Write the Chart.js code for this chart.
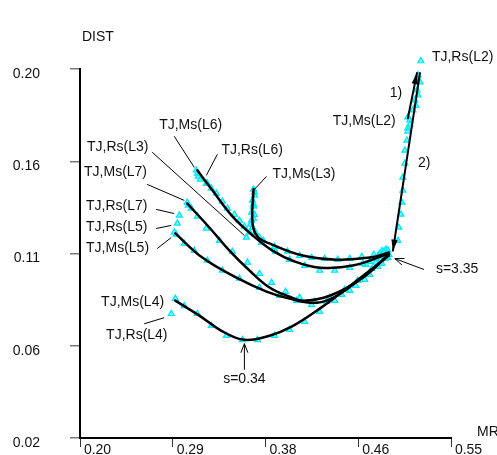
<!DOCTYPE html>
<html>
<head>
<meta charset="utf-8">
<script src="https://cdn.jsdelivr.net/npm/chart.js@4.4.1/dist/chart.umd.min.js"></script>
<style>
  html, body { margin: 0; padding: 0; background: #fff; }
  canvas { display: block; }
</style>
</head>
<body>
<canvas id="chart" width="497" height="455"></canvas>
<script>
// ---- axis ticks -------------------------------------------------------
const xTicks = [0.20, 0.2875, 0.375, 0.4625, 0.55];
const xTickLabels = ['0.20', '0.29', '0.38', '0.46', '0.55'];
const yTicks = [0.02, 0.065, 0.11, 0.155, 0.20];
const yTickLabels = ['0.02', '0.06', '0.11', '0.16', '0.20'];

// ---- fitted paths, [MR, DIST] -----------------------------------------
const pathL2up = [[0.5093, 0.1760], [0.5179, 0.1980]];
const pathL2down = [[0.5207, 0.1980], [0.4952, 0.1114]];
const pathL3 = [[0.3637, 0.1413], [0.3627, 0.1251], [0.3674, 0.1183], [0.3788, 0.1149],
  [0.4100, 0.1090], [0.4422, 0.1070], [0.4734, 0.1080], [0.4914, 0.1105]];
const pathL6 = [[0.3107, 0.1506], [0.3249, 0.1408], [0.3438, 0.1281], [0.3618, 0.1193],
  [0.3816, 0.1114], [0.4024, 0.1061], [0.4261, 0.1031], [0.4573, 0.1041], [0.4914, 0.1100]];
const pathL7 = [[0.3012, 0.1344], [0.3220, 0.1227], [0.3410, 0.1114], [0.3599, 0.1017],
  [0.3788, 0.0934], [0.3977, 0.0889], [0.4100, 0.0870], [0.4356, 0.0894], [0.4668, 0.0982], [0.4914, 0.1095]];
const pathL5 = [[0.2899, 0.1198], [0.3154, 0.1080], [0.3476, 0.0982], [0.3760, 0.0914],
  [0.3977, 0.0880], [0.4233, 0.0860], [0.4422, 0.0894], [0.4706, 0.1002], [0.4914, 0.1095]];
const pathL4 = [[0.2899, 0.0870], [0.3126, 0.0797], [0.3334, 0.0723], [0.3551, 0.0679],
  [0.3788, 0.0699], [0.3996, 0.0743], [0.4261, 0.0831], [0.4573, 0.0953], [0.4914, 0.1090]];

// ---- observed states, [MR, DIST] --------------------------------------
const obsL2 = [[0.5188, 0.1970], [0.5207, 0.1936], [0.5179, 0.1897], [0.5188, 0.1872], [0.5160, 0.1848],
  [0.5169, 0.1823], [0.5141, 0.1799], [0.5093, 0.1765], [0.5112, 0.1750], [0.5112, 0.1731],
  [0.5093, 0.1711], [0.5093, 0.1696], [0.5084, 0.1652], [0.5065, 0.1603], [0.5065, 0.1540],
  [0.5046, 0.1471], [0.5046, 0.1408], [0.5037, 0.1349], [0.5027, 0.1291], [0.5008, 0.1227],
  [0.4999, 0.1163]];
const obsL3 = [[0.3637, 0.1413], [0.3646, 0.1398], [0.3646, 0.1383], [0.3627, 0.1359], [0.3637, 0.1340],
  [0.3637, 0.1330], [0.3618, 0.1300], [0.3646, 0.1290], [0.3637, 0.1271], [0.3618, 0.1261],
  [0.3608, 0.1242], [0.3627, 0.1227], [0.3655, 0.1203], [0.3693, 0.1178], [0.3731, 0.1163],
  [0.3835, 0.1134], [0.3958, 0.1110], [0.4072, 0.1090], [0.4185, 0.1080], [0.4308, 0.1075],
  [0.4431, 0.1070], [0.4545, 0.1075], [0.4658, 0.1085], [0.4772, 0.1095], [0.4866, 0.1110]];
const obsL6 = [[0.3097, 0.1506], [0.3107, 0.1491], [0.3116, 0.1476], [0.3135, 0.1462], [0.3201, 0.1442],
  [0.3239, 0.1418], [0.3287, 0.1393], [0.3343, 0.1354], [0.3391, 0.1320], [0.3457, 0.1290],
  [0.3504, 0.1261], [0.3551, 0.1232], [0.3599, 0.1203], [0.3712, 0.1154], [0.3845, 0.1110],
  [0.3977, 0.1070], [0.4119, 0.1041], [0.4261, 0.1017], [0.4403, 0.1017], [0.4545, 0.1031],
  [0.4668, 0.1051], [0.4791, 0.1075]];
const obsL7 = [[0.3012, 0.1349], [0.3022, 0.1335], [0.3050, 0.1320], [0.3107, 0.1281], [0.3192, 0.1222],
  [0.3315, 0.1163], [0.3438, 0.1110], [0.3580, 0.1056], [0.3693, 0.1002], [0.3807, 0.0958],
  [0.3939, 0.0914], [0.4072, 0.0885], [0.4214, 0.0865], [0.4356, 0.0885], [0.4497, 0.0924],
  [0.4620, 0.0968], [0.4753, 0.1026], [0.4876, 0.1075]];
const obsL5 = [[0.2889, 0.1203], [0.2908, 0.1193], [0.2984, 0.1149], [0.3078, 0.1114], [0.3201, 0.1066],
  [0.3343, 0.1017], [0.3504, 0.0978], [0.3693, 0.0934], [0.3883, 0.0894], [0.4043, 0.0870],
  [0.4185, 0.0850], [0.4327, 0.0865], [0.4469, 0.0899], [0.4602, 0.0943], [0.4734, 0.0997],
  [0.4848, 0.1051]];
const obsL4 = [[0.2899, 0.0880], [0.2984, 0.0845], [0.3107, 0.0806], [0.3239, 0.0748], [0.3381, 0.0699],
  [0.3532, 0.0679], [0.3674, 0.0679], [0.3835, 0.0699], [0.3977, 0.0728], [0.4119, 0.0767],
  [0.4261, 0.0816], [0.4403, 0.0870], [0.4545, 0.0919], [0.4687, 0.0973], [0.4810, 0.1036],
  [0.4904, 0.1080]];
const endStates = [[0.4895, 0.1105], [0.4914, 0.1095], [0.4876, 0.1100], [0.4895, 0.1085], [0.4857, 0.1090],
  [0.4829, 0.1100], [0.4848, 0.1112], [0.4810, 0.1088], [0.4885, 0.1120], [0.4904, 0.1116],
  [0.4772, 0.1075], [0.4734, 0.1060], [0.4791, 0.1056], [0.4838, 0.1068], [0.4697, 0.1046]];
const rsPoints = [[0.5216, 0.2039], [0.3570, 0.1178], [0.2937, 0.1286], [0.2918, 0.1247],
  [0.3192, 0.1442], [0.2861, 0.0806]];

// ---- callouts ---------------------------------------------------------
const FONT = '14px "Liberation Sans", Arial, Helvetica, sans-serif';
const notes = [
  { text: 'TJ,Rs(L2)', at: [0.5320, 0.2058] },
  { text: 'TJ,Ms(L2)', at: [0.4384, 0.1745] },
  { text: '1)', at: [0.4923, 0.1882] },
  { text: '2)', at: [0.5188, 0.1540] },
  { text: 'TJ,Rs(L6)', at: [0.3334, 0.1603] },
  { text: 'TJ,Ms(L6)', at: [0.2747, 0.1726] },
  { text: 'TJ,Rs(L3)', at: [0.2066, 0.1618] },
  { text: 'TJ,Ms(L7)', at: [0.2038, 0.1496] },
  { text: 'TJ,Rs(L7)', at: [0.2057, 0.1330] },
  { text: 'TJ,Rs(L5)', at: [0.2057, 0.1227] },
  { text: 'TJ,Ms(L5)', at: [0.2057, 0.1124] },
  { text: 'TJ,Ms(L3)', at: [0.3816, 0.1486] },
  { text: 'TJ,Ms(L4)', at: [0.2199, 0.0865] },
  { text: 'TJ,Rs(L4)', at: [0.2246, 0.0704] },
  { text: 's=3.35', at: [0.5358, 0.1026] },
  { text: 's=0.34', at: [0.3551, 0.0489], align: 'center' }
];
const leaders = [
  [0.2889, 0.1672, 0.3078, 0.1520],
  [0.3296, 0.1584, 0.3192, 0.1481],
  [0.2681, 0.1594, 0.3551, 0.1188],
  [0.2634, 0.1437, 0.2984, 0.1359],
  [0.2719, 0.1315, 0.2889, 0.1295],
  [0.2719, 0.1222, 0.2861, 0.1237],
  [0.2728, 0.1124, 0.2861, 0.1178],
  [0.3760, 0.1476, 0.3646, 0.1413],
  [0.2605, 0.0757, 0.2795, 0.0787]
];
const pointers = [
  [0.5245, 0.1022, 0.4970, 0.1075],
  [0.3551, 0.0533, 0.3551, 0.0660]
];

const MARK_FILL = 'rgba(60,240,255,0.7)';
const MARK_EDGE = '#00e6f6';
const MARK_R = 3.5;

const xy = arr => arr.map(([x, y]) => ({ x, y }));
const pathSet = (arr, w) => ({
  data: xy(arr), showLine: true, borderColor: '#000', borderWidth: w,
  pointRadius: 0, tension: 0.4, fill: false, order: 1, clip: false,
  borderCapStyle: 'round', borderJoinStyle: 'round'
});
const obsSet = arr => ({
  data: xy(arr), showLine: false, pointStyle: 'triangle', pointRadius: MARK_R,
  backgroundColor: MARK_FILL, borderColor: MARK_EDGE, borderWidth: 1.2,
  order: 2, clip: false
});

function head(ctx, x1, y1, x2, y2, len, half, filled) {
  const a = Math.atan2(y2 - y1, x2 - x1);
  const bx = x2 - len * Math.cos(a), by = y2 - len * Math.sin(a);
  const nx = -Math.sin(a) * half, ny = Math.cos(a) * half;
  ctx.beginPath();
  ctx.moveTo(bx + nx, by + ny);
  ctx.lineTo(x2, y2);
  ctx.lineTo(bx - nx, by - ny);
  if (filled) { ctx.closePath(); ctx.fill(); } else { ctx.stroke(); }
}

function triangle(ctx, x, y, r) {
  ctx.beginPath();
  ctx.moveTo(x, y - r);
  ctx.lineTo(x + 0.866 * r, y + 0.5 * r);
  ctx.lineTo(x - 0.866 * r, y + 0.5 * r);
  ctx.closePath();
  ctx.fill();
  ctx.stroke();
}

const overlay = {
  id: 'overlay',
  afterDatasetsDraw(chart) {
    const { ctx, chartArea } = chart;
    const sx = chart.scales.x, sy = chart.scales.y;
    const px = v => sx.getPixelForValue(v), py = v => sy.getPixelForValue(v);
    ctx.save();

    // states lying just outside the frame are skipped by the point element
    ctx.fillStyle = MARK_FILL;
    ctx.strokeStyle = MARK_EDGE;
    ctx.lineWidth = 1.2;
    chart.data.datasets.forEach((ds, i) => {
      if (ds.showLine) return;
      chart.getDatasetMeta(i).data.forEach(pt => {
        const outside = pt.y < chartArea.top - 2 || pt.y > chartArea.bottom + 2 ||
          pt.x < chartArea.left - 2 || pt.x > chartArea.right + 2;
        if (outside) triangle(ctx, pt.x, pt.y, MARK_R);
      });
    });

    ctx.strokeStyle = '#000';
    ctx.fillStyle = '#000';
    ctx.lineWidth = 1;
    leaders.forEach(([a, b, c, d]) => {
      ctx.beginPath(); ctx.moveTo(px(a), py(b)); ctx.lineTo(px(c), py(d)); ctx.stroke();
    });
    pointers.forEach(([a, b, c, d]) => {
      ctx.beginPath(); ctx.moveTo(px(a), py(b)); ctx.lineTo(px(c), py(d)); ctx.stroke();
      head(ctx, px(a), py(b), px(c), py(d), 9, 3.5, false);
    });
    // arrowheads at the ends of the two L2 legs
    [0, 1].forEach(i => {
      const pts = chart.getDatasetMeta(i).data;
      const p0 = pts[pts.length - 2], p1 = pts[pts.length - 1];
      head(ctx, p0.x, p0.y, p1.x, p1.y, 11, 3.2, true);
    });

    ctx.font = FONT;
    ctx.textBaseline = 'middle';
    ctx.fillStyle = '#111';
    notes.forEach(n => {
      ctx.textAlign = n.align || 'left';
      ctx.fillText(n.text, px(n.at[0]), py(n.at[1]));
    });
    ctx.textAlign = 'left';
    ctx.fillText('DIST', chartArea.left + 2, chartArea.top - 32);
    ctx.fillText('MR', chartArea.right + 26, chartArea.bottom - 6);
    ctx.restore();
  }
};

new Chart(document.getElementById('chart'), {
  type: 'scatter',
  data: {
    datasets: [
      pathSet(pathL2up, 2), pathSet(pathL2down, 2),
      pathSet(pathL3, 2.5), pathSet(pathL6, 2.5), pathSet(pathL7, 2.5),
      pathSet(pathL5, 2.5), pathSet(pathL4, 2.5),
      obsSet(obsL2), obsSet(obsL3), obsSet(obsL6), obsSet(obsL7),
      obsSet(obsL5), obsSet(obsL4), obsSet(endStates), obsSet(rsPoints)
    ]
  },
  options: {
    responsive: false,
    devicePixelRatio: 1,
    animation: false,
    events: [],
    layout: { padding: { top: 69, right: 46, left: 0, bottom: 0 } },
    plugins: { legend: { display: false }, tooltip: { enabled: false } },
    scales: {
      x: {
        type: 'linear', position: 'bottom', min: 0.20, max: 0.55,
        afterBuildTicks: s => { s.ticks = xTicks.map(v => ({ value: v })); },
        afterFit: s => { s.height = 17; s.paddingLeft = 0; s.paddingRight = 0; },
        border: { display: true, color: '#000', width: 2 },
        grid: { display: true, drawOnChartArea: false, drawTicks: true, tickLength: 9, color: '#333', lineWidth: 1 },
        ticks: {
          align: 'start', padding: -5, color: '#111', autoSkip: false, maxRotation: 0,
          font: { family: '"Liberation Sans", Arial, sans-serif', size: 14 },
          callback: (v, i) => ' ' + xTickLabels[i]
        }
      },
      y: {
        type: 'linear', min: 0.02, max: 0.20,
        afterBuildTicks: s => { s.ticks = yTicks.map(v => ({ value: v })); },
        afterFit: s => { s.width = 80; s.paddingTop = 0; s.paddingBottom = 0; },
        border: { display: true, color: '#000', width: 2 },
        grid: { display: true, drawOnChartArea: false, drawTicks: true, tickLength: 10, color: '#7a7a7a', lineWidth: 1.5 },
        ticks: {
          padding: 30, color: '#111', autoSkip: false,
          font: { family: '"Liberation Sans", Arial, sans-serif', size: 14, lineHeight: 0.7 },
          callback: (v, i) => ['', yTickLabels[i]]
        }
      }
    }
  },
  plugins: [overlay]
});
</script>
</body>
</html>
